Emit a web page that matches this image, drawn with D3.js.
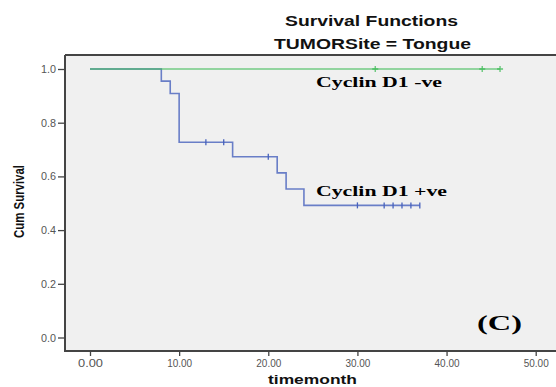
<!DOCTYPE html>
<html><head><meta charset="utf-8">
<script src="https://cdn.jsdelivr.net/npm/d3@7"></script>
<style>body{margin:0;background:#fff}svg{display:block}</style>
</head><body><svg id="c" width="556" height="387"></svg>
<script>
// Data
const xTicks = [0, 10, 20, 30, 40, 50];
const yTicks = [0, 0.2, 0.4, 0.6, 0.8, 1.0];
// Cyclin D1 +ve: step times and survival after each step
const posTimes = [0, 8, 9, 10, 16, 21, 22, 24];
const posSurv  = [1.0, 0.955, 0.909, 0.727, 0.673, 0.613, 0.553, 0.492];
const posEnd = 37;
const posCensor = [13, 15, 20, 30, 33, 34, 35, 36, 37];
// Cyclin D1 -ve
const negTimes = [0];
const negSurv = [1.0];
const negEnd = 46;
const negCensor = [32, 44, 46];

const svg = d3.select("#c");
const x = d3.scaleLinear().domain([0, 50]).range([90, 535.7]);
const y = d3.scaleLinear().domain([0, 1]).range([337.5, 69]);
const L = 65, T = 55, B = 351;

svg.append("rect").attr("x", L).attr("y", T).attr("width", 600).attr("height", B - T)
  .attr("fill", "#f0f0f0");
svg.append("path").attr("d", `M${L},${T}H560M${L},${T}V${B}H560`)
  .attr("fill", "none").attr("stroke", "#444").attr("stroke-width", 2);

// axes
const yAxis = svg.append("g").attr("transform", `translate(${L},0)`)
  .call(d3.axisLeft(y).tickValues(yTicks).tickFormat(d3.format(".1f")).tickSize(7).tickPadding(2));
const xAxis = svg.append("g").attr("transform", `translate(0,${B})`)
  .call(d3.axisBottom(x).tickValues(xTicks).tickFormat(d3.format(".2f")).tickSize(5).tickPadding(3));
[yAxis, xAxis].forEach(a => {
  a.select(".domain").remove();
  a.selectAll(".tick line").attr("stroke", "#444").attr("stroke-width", 1.3);
  a.selectAll(".tick text").attr("fill", "#555").attr("font-family", "Arial, 'Liberation Sans', sans-serif")
    .attr("font-size", 11);
});
xAxis.selectAll(".tick text").attr("textLength", 25).attr("lengthAdjust", "spacingAndGlyphs");
yAxis.selectAll(".tick text").attr("textLength", 15).attr("lengthAdjust", "spacingAndGlyphs");

function stepPath(times, surv, end) {
  const pts = [];
  times.forEach((t, i) => {
    if (i > 0) pts.push([t, surv[i - 1]]);
    pts.push([t, surv[i]]);
  });
  pts.push([end, surv[surv.length - 1]]);
  return d3.line().x(d => x(d[0])).y(d => y(d[1]))(pts);
}
function survAt(times, surv, t) {
  let s = surv[0];
  times.forEach((tt, i) => { if (tt <= t) s = surv[i]; });
  return s;
}

const blue = "#4762bd", green = "#3dbb55";
svg.append("path").attr("d", stepPath(posTimes, posSurv, posEnd))
  .attr("fill", "none").attr("stroke", blue).attr("stroke-width", 1.6).attr("opacity", 0.8);
svg.selectAll(".cp").data(posCensor).join("path")
  .attr("d", d => { const cx = x(d), cy = y(survAt(posTimes, posSurv, d)); return `M${cx},${cy-3}V${cy+3}`; })
  .attr("stroke", blue).attr("stroke-width", 1.3);

svg.append("path").attr("d", stepPath(negTimes, negSurv, negEnd))
  .attr("fill", "none").attr("stroke", green).attr("stroke-width", 1.5).attr("opacity", 0.7);
svg.selectAll(".cn").data(negCensor).join("path")
  .attr("d", d => { const cx = x(d), cy = y(survAt(negTimes, negSurv, d)); return `M${cx},${cy-3}V${cy+3}M${cx-3},${cy}H${cx+3}`; })
  .attr("stroke", green).attr("stroke-width", 1.3).attr("opacity", 0.8);

// titles
const sans = "Arial, 'Liberation Sans', sans-serif";
svg.append("text").attr("x", 285).attr("y", 26).attr("font-family", sans).attr("font-weight", "bold")
  .attr("font-size", 14).attr("fill", "#111").attr("textLength", 173).attr("lengthAdjust", "spacingAndGlyphs")
  .text("Survival Functions");
svg.append("text").attr("x", 274).attr("y", 49).attr("font-family", sans).attr("font-weight", "bold")
  .attr("font-size", 14).attr("fill", "#111").attr("textLength", 197).attr("lengthAdjust", "spacingAndGlyphs")
  .text("TUMORSite = Tongue");
svg.append("text").attr("x", 268).attr("y", 384).attr("font-family", sans).attr("font-weight", "bold")
  .attr("font-size", 12.5).attr("fill", "#111").attr("textLength", 89).attr("lengthAdjust", "spacingAndGlyphs")
  .text("timemonth");
svg.append("text").attr("transform", "translate(24,238) rotate(-90)").attr("font-family", sans)
  .attr("font-weight", "bold").attr("font-size", 15).attr("fill", "#111")
  .attr("textLength", 73).attr("lengthAdjust", "spacingAndGlyphs").text("Cum Survival");

const serif = "'Times New Roman', 'Liberation Serif', serif";
svg.append("text").attr("x", 316).attr("y", 87).attr("font-family", serif).attr("font-weight", "bold")
  .attr("font-size", 15).attr("fill", "#000").attr("textLength", 126).attr("lengthAdjust", "spacingAndGlyphs")
  .text("Cyclin D1 -ve");
svg.append("text").attr("x", 316).attr("y", 196).attr("font-family", serif).attr("font-weight", "bold")
  .attr("font-size", 15).attr("fill", "#000").attr("textLength", 131).attr("lengthAdjust", "spacingAndGlyphs")
  .text("Cyclin D1 +ve");
svg.append("text").attr("x", 477).attr("y", 330).attr("font-family", serif).attr("font-weight", "bold")
  .attr("font-size", 21).attr("fill", "#000").attr("textLength", 45).attr("lengthAdjust", "spacingAndGlyphs")
  .text("(C)");
</script></body></html>
